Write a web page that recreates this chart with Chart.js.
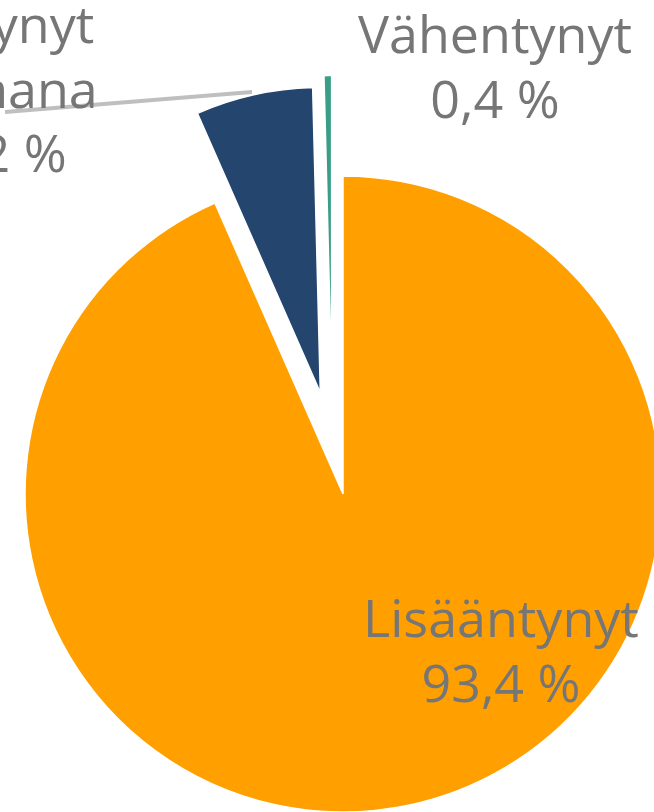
<!DOCTYPE html>
<html>
<head>
    <meta charset="utf-8">
    <title>Muutos</title>
    <script src="https://cdn.jsdelivr.net/npm/chart.js"></script>
    <style>
        html, body {
            margin: 0;
            padding: 0;
            width: 654px;
            height: 812px;
            overflow: hidden;
            background: #ffffff;
        }
        /* the pie is bigger than the window, it gets cut on the right and top */
        .chart-box {
            position: absolute;
            left: 0;
            top: 0;
            width: 686px;
            height: 988px;
        }
    </style>
</head>
<body>
    <div class="chart-box">
        <canvas id="pieChart"></canvas>
    </div>

    <script>
        // data
        const categories = ['Lisääntynyt', 'Pysynyt samana', 'Vähentynyt'];
        const shares = [93.4, 6.2, 0.4];
        const colors = ['#FFA000', '#24456E', '#3A9E86'];

        // exploded slices: distance (px), turn from the mid angle (deg), own radius
        const explodeDist = [0, 104, 114];
        const explodeTurn = [0, 0, -5];
        const sliceRadius = [null, 305, 305];

        // label placement relative to the pie centre (centre of first line baseline)
        const labelPos = [[158, 143], [-341, -451], [152, -441]];
        const lineHeight = 64.5;
        const leaderLine = [[-338, -382], [-91, -402]];

        const fmt = v => v.toFixed(1).replace('.', ',') + ' %';

        const explodePlugin = {
            id: 'explode',
            afterDatasetUpdate(chart, args) {
                const meta = chart.getDatasetMeta(args.index);
                meta.data.forEach((arc, i) => {
                    if (sliceRadius[i]) arc.outerRadius = sliceRadius[i];
                    if (!explodeDist[i]) return;
                    const mid = (arc.startAngle + arc.endAngle) / 2 + explodeTurn[i] * Math.PI / 180;
                    arc.x += Math.cos(mid) * explodeDist[i];
                    arc.y += Math.sin(mid) * explodeDist[i];
                });
            }
        };

        const labelPlugin = {
            id: 'pieLabels',
            afterDraw(chart) {
                const ctx = chart.ctx;
                const area = chart.chartArea;
                const cx = (area.left + area.right) / 2;
                const cy = (area.top + area.bottom) / 2;

                // leader line for the middle slice
                ctx.save();
                ctx.strokeStyle = '#BFBFBF';
                ctx.lineWidth = 4;
                ctx.beginPath();
                ctx.moveTo(cx + leaderLine[0][0], cy + leaderLine[0][1]);
                ctx.lineTo(cx + leaderLine[1][0], cy + leaderLine[1][1]);
                ctx.stroke();

                ctx.fillStyle = '#767676';
                ctx.font = '52px "Open Sans", sans-serif';
                ctx.textAlign = 'center';
                ctx.textBaseline = 'alphabetic';
                const lines = [
                    [categories[0], fmt(shares[0])],
                    ['Pysynyt', 'samana', fmt(shares[1])],
                    [categories[2], fmt(shares[2])]
                ];
                lines.forEach((rows, i) => {
                    rows.forEach((txt, j) => {
                        ctx.fillText(txt, cx + labelPos[i][0], cy + labelPos[i][1] + j * lineHeight);
                    });
                });
                ctx.restore();
            }
        };

        new Chart(document.getElementById('pieChart'), {
            type: 'pie',
            data: {
                labels: categories,
                datasets: [{
                    data: shares,
                    backgroundColor: colors,
                    borderColor: '#ffffff',
                    borderWidth: 1.5
                }]
            },
            options: {
                responsive: true,
                maintainAspectRatio: false,
                animation: false,
                events: [],
                radius: 318,
                layout: {padding: 0},
                plugins: {
                    legend: {display: false},
                    tooltip: {enabled: false}
                }
            },
            plugins: [explodePlugin, labelPlugin]
        });
    </script>
</body>
</html>
